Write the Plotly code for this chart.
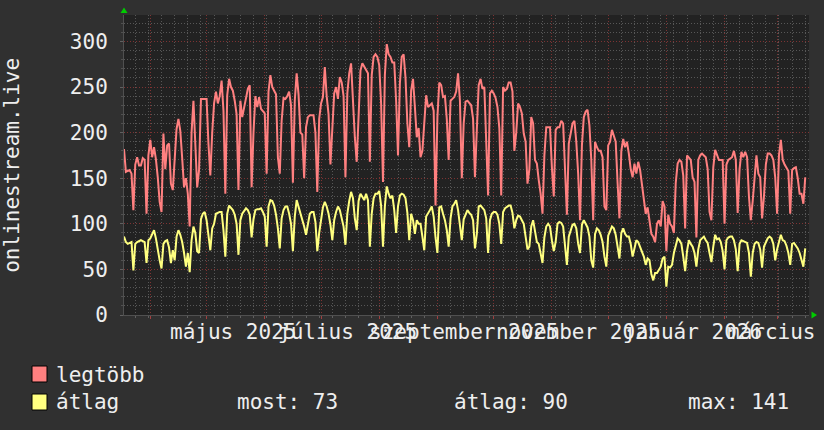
import pandas as pd
import plotly.graph_objects as go

# ---------------- data ----------------
START_DAY = "2025-03-18"
X_RANGE = ["2025-03-18", "2026-03-18"]

legtobb = [
    182, 157, 158, 159, 155, 115, 165, 173, 164, 164,
    172, 170, 111, 175, 192, 173, 184, 171, 151, 124,
    113, 199, 160, 186, 188, 144, 137, 170, 204, 215,
    202, 172, 140, 150, 133, 97, 200, 235, 184, 140,
    159, 237, 237, 237, 237, 188, 153, 200, 232, 245,
    232, 240, 257, 224, 133, 241, 259, 250, 246, 235,
    220, 137, 235, 217, 228, 240, 248, 252, 140, 200,
    240, 228, 239, 226, 223, 221, 155, 245, 263, 250,
    246, 242, 173, 155, 213, 238, 237, 240, 245, 230,
    145, 235, 265, 242, 200, 198, 150, 206, 217, 219,
    219, 219, 200, 135, 215, 232, 239, 272, 240, 220,
    165, 213, 243, 250, 237, 261, 255, 240, 151, 243,
    265, 276, 230, 195, 168, 224, 268, 276, 272, 268,
    265, 168, 263, 283, 286, 283, 274, 232, 146, 263,
    297, 286, 283, 277, 277, 235, 175, 254, 283, 286,
    260, 210, 184, 246, 259, 228, 195, 205, 173, 180,
    217, 241, 228, 230, 232, 224, 120, 217, 255, 252,
    239, 240, 215, 170, 235, 237, 239, 245, 265, 235,
    150, 210, 234, 235, 232, 230, 215, 151, 203, 252,
    259, 248, 250, 200, 131, 243, 246, 243, 238, 228,
    205, 131, 250, 246, 248, 255, 255, 245, 180, 200,
    232, 228, 221, 199, 190, 144, 160, 217, 210, 170,
    166, 148, 133, 111, 175, 206, 206, 206, 162, 130,
    203, 206, 206, 213, 210, 159, 110, 188, 199, 210,
    213, 190, 155, 104, 186, 217, 223, 225, 208, 170,
    104, 190, 184, 180, 180, 173, 119, 115, 186, 190,
    203, 195, 190, 145, 106, 180, 193, 184, 190, 177,
    160, 151, 166, 155, 168, 159, 144, 126, 111, 118,
    104, 89, 86, 80, 100, 104, 97, 125, 119, 70,
    110, 100, 97, 90, 145, 166, 170, 168, 153, 95,
    175, 173, 170, 151, 146, 85, 170, 175, 177, 175,
    173, 160, 113, 104, 162, 181, 175, 170, 170, 170,
    100, 165, 170, 172, 173, 180, 170, 112, 160, 179,
    173, 179, 173, 130, 104, 125, 155, 175, 155, 151,
    106, 130, 165, 177, 177, 175, 170, 151, 111, 175,
    192, 170, 165, 162, 158, 111, 159, 161, 162, 150,
    133, 133, 122, 151,
]

atlag = [
    86, 80, 78, 79, 80, 49, 78, 80, 81, 82,
    81, 80, 57, 82, 84, 88, 93, 84, 70, 60,
    51, 78, 81, 82, 74, 57, 71, 60, 86, 93,
    88, 80, 68, 53, 68, 47, 82, 97, 90, 70,
    68, 105, 111, 113, 104, 84, 71, 95, 100, 111,
    112, 113, 113, 93, 64, 111, 120, 118, 115, 110,
    100, 66, 104, 111, 114, 117, 115, 110, 85, 105,
    115, 116, 116, 117, 113, 108, 75, 119, 126, 125,
    120, 110, 95, 73, 106, 115, 119, 119, 111, 100,
    70, 108, 126, 119, 113, 104, 97, 88, 100, 111,
    113, 113, 102, 70, 90, 105, 118, 124, 119, 111,
    99, 82, 104, 113, 119, 115, 106, 97, 77, 111,
    125, 135, 128, 106, 93, 125, 133, 130, 126, 133,
    126, 75, 111, 128, 133, 133, 136, 120, 75, 119,
    141, 133, 128, 131, 115, 90, 119, 131, 133, 132,
    128, 112, 82, 111, 104, 89, 104, 100, 100, 86,
    71, 108, 111, 115, 119, 108, 85, 68, 118, 119,
    111, 104, 93, 75, 106, 119, 122, 126, 115, 97,
    82, 105, 111, 115, 112, 110, 104, 73, 89, 119,
    120, 117, 115, 106, 68, 104, 111, 113, 113, 110,
    100, 78, 113, 117, 119, 120, 120, 112, 95, 104,
    109, 108, 104, 100, 86, 72, 75, 97, 104, 89,
    80, 78, 68, 57, 85, 97, 100, 97, 82, 70,
    80, 100, 102, 101, 97, 75, 55, 86, 94, 99,
    100, 95, 78, 68, 99, 104, 100, 96, 86, 60,
    52, 89, 95, 93, 88, 80, 64, 53, 87, 93,
    97, 95, 88, 75, 62, 90, 95, 89, 86, 86,
    78, 64, 74, 82, 80, 75, 68, 64, 55, 62,
    60, 45, 38, 46, 46, 49, 53, 62, 64, 31,
    53, 52, 55, 68, 77, 84, 82, 78, 64, 48,
    70, 82, 78, 75, 68, 53, 72, 82, 84, 86,
    82, 79, 68, 58, 75, 88, 83, 84, 80, 70,
    50, 82, 85, 86, 86, 82, 72, 48, 78, 82,
    81, 80, 79, 68, 42, 68, 78, 80, 79, 72,
    52, 75, 80, 84, 86, 84, 78, 60, 72, 82,
    88, 82, 81, 76, 68, 55, 78, 79, 76, 73,
    68, 60, 53, 73,
]

MONTH_GRID = ["2025-04-01", "2025-05-01", "2025-06-01", "2025-07-01",
              "2025-08-01", "2025-09-01", "2025-10-01", "2025-11-01",
              "2025-12-01", "2026-01-01", "2026-02-01", "2026-03-01"]
X_LABEL_DATES = ["2025-05-15", "2025-07-15", "2025-09-15",
                 "2025-11-15", "2026-01-15", "2026-03-15"]
X_LABELS = ["május 2025", "július 2025", "szeptember 2025",
            "november 2025", "január 2026", "március 2026"]
Y_TICKS = [0, 50, 100, 150, 200, 250, 300]
Y_MAX = 329
Y_TITLE = "onlinestream.live"
SERIES_NAMES = ["legtöbb", "átlag"]
STAT_LABELS = ["most: 73", "átlag: 90", "max: 141"]

# ---------------- styling ----------------
FONT = "DejaVu Sans Mono"
TXT = "#eeeeee"
C_MAX = "#ff8080"
C_AVG = "#ffff80"
MINOR_GRID = "#575757"
MAJOR_GRID = "#7d3333"

dates = pd.date_range(START_DAY, periods=len(legtobb), freq="D")

fig = go.Figure()
fig.add_trace(go.Scatter(x=dates, y=legtobb, mode="lines", name=SERIES_NAMES[0],
                         line=dict(color=C_MAX, width=2)))
fig.add_trace(go.Scatter(x=dates, y=atlag, mode="lines", name=SERIES_NAMES[1],
                         line=dict(color=C_AVG, width=2)))

# page geometry
W, H = 824, 430
P_LEFT, P_RIGHT, P_TOP, P_BOTTOM = 124, 809, 15, 315   # plot area in px
PW, PH = P_RIGHT - P_LEFT, P_BOTTOM - P_TOP


def px(xp):
    return (xp - P_LEFT) / PW


def py(yp):
    return (P_BOTTOM - yp) / PH


fig.update_layout(
    width=W, height=H,
    margin=dict(l=P_LEFT, r=W - P_RIGHT, t=P_TOP, b=H - P_BOTTOM, pad=0),
    paper_bgcolor="#303030", plot_bgcolor="#222222",
    showlegend=False,
    font=dict(family=FONT, size=21, color=TXT),
)

fig.update_xaxes(
    type="date", range=X_RANGE,
    tickmode="array", tickvals=MONTH_GRID, ticktext=[""] * len(MONTH_GRID),
    showgrid=True, gridcolor=MAJOR_GRID, gridwidth=1, griddash="1px,2px",
    ticks="outside", ticklen=3, tickcolor="#a04040",
    minor=dict(tickmode="linear", tick0="2025-03-24", dtick=7 * 86400000,
               showgrid=True, gridcolor=MINOR_GRID, griddash="1px,2px",
               ticks="outside", ticklen=2, tickcolor="#606060"),
    showline=True, linecolor="#505050", zeroline=False,
)
fig.update_yaxes(
    range=[0, Y_MAX],
    tickmode="array", tickvals=Y_TICKS, ticktext=[str(v) for v in Y_TICKS],
    showgrid=True, gridcolor=MAJOR_GRID, gridwidth=1, griddash="1px,2px",
    ticks="outside", ticklen=3, tickcolor="#606060",
    minor=dict(tickmode="linear", tick0=0, dtick=10,
               showgrid=True, gridcolor=MINOR_GRID, griddash="1px,2px",
               ticks="outside", ticklen=2, tickcolor="#505050"),
    showline=True, linecolor="#505050", zeroline=False,
    ticklabelstandoff=8,
)

annotations = []
for d, lab in zip(X_LABEL_DATES, X_LABELS):
    annotations.append(dict(x=d, xref="x", y=py(332), yref="paper",
                            text=lab, showarrow=False, xanchor="center",
                            yanchor="middle"))
annotations.append(dict(x=px(11.8), y=0.5, xref="paper", yref="paper",
                        text=Y_TITLE, textangle=-90, showarrow=False,
                        xanchor="center", yanchor="middle"))
# legend texts
annotations.append(dict(x=px(53.5), y=py(374.5), xref="paper", yref="paper",
                        text=SERIES_NAMES[0], showarrow=False,
                        xanchor="left", yanchor="middle"))
annotations.append(dict(x=px(53.5), y=py(402), xref="paper", yref="paper",
                        text=SERIES_NAMES[1], showarrow=False,
                        xanchor="left", yanchor="middle"))
for xp, s in zip([235, 452, 686], STAT_LABELS):
    annotations.append(dict(x=px(xp), y=py(402), xref="paper", yref="paper",
                            text=s, showarrow=False,
                            xanchor="left", yanchor="middle"))
fig.update_layout(annotations=annotations)

shapes = [
    dict(type="rect", xref="paper", yref="paper",
         x0=px(32), x1=px(47), y0=py(382), y1=py(366),
         fillcolor=C_MAX, line=dict(color="#000000", width=1)),
    dict(type="rect", xref="paper", yref="paper",
         x0=px(32), x1=px(47), y0=py(410), y1=py(394),
         fillcolor=C_AVG, line=dict(color="#000000", width=1)),
    dict(type="path", xref="paper", yref="paper",
         path=f"M {px(120.5)} {py(13)} L {px(127.5)} {py(13)} L {px(124)} {py(7.5)} Z",
         fillcolor="#00cc00", line=dict(width=0)),
    dict(type="path", xref="paper", yref="paper",
         path=f"M {px(811.5)} {py(311.5)} L {px(811.5)} {py(318.5)} L {px(817)} {py(315)} Z",
         fillcolor="#00cc00", line=dict(width=0)),
]
fig.update_layout(shapes=shapes)

# remove the default 8px page margin so the figure fills the window exactly
fig.write_html("out.html",
               config={"displayModeBar": False},
               post_script="document.body.style.margin='0';"
                           "document.body.style.overflow='hidden';")
